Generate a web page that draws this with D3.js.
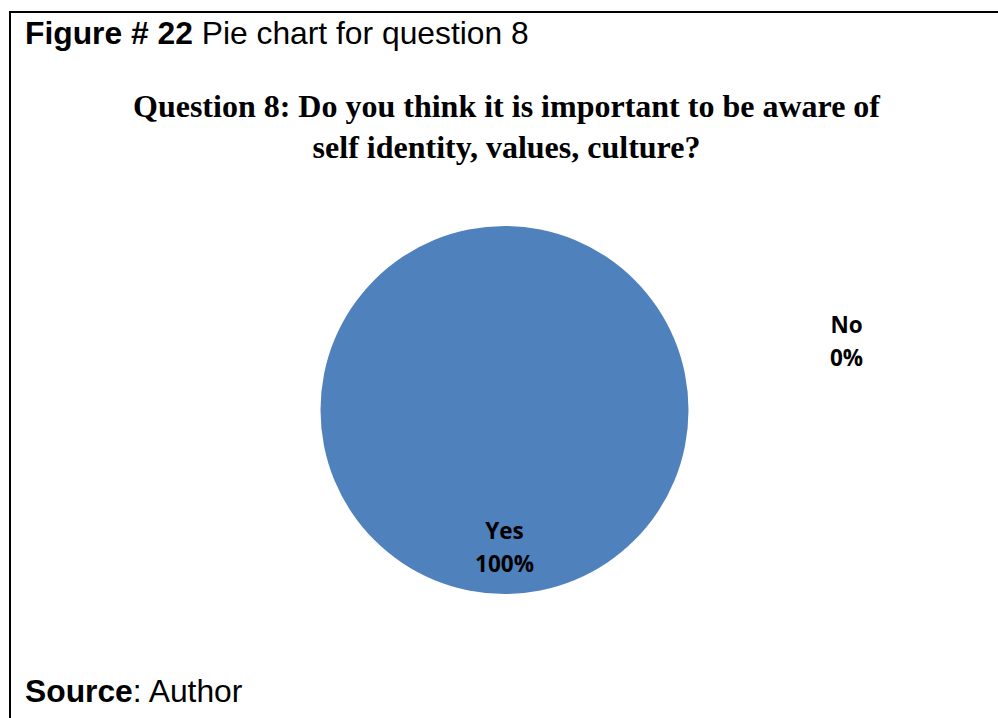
<!DOCTYPE html>
<html>
<head>
<meta charset="utf-8">
<script src="https://cdn.jsdelivr.net/npm/d3@7"></script>
<style>
  html, body { margin: 0; padding: 0; background: #fff; }
  svg { display: block; }
</style>
</head>
<body>
<svg id="chart" width="998" height="718"></svg>
<script>
// Survey answers for question 8
const categories = ["Yes", "No"];
const percents = [100, 0];
const sliceColors = ["#4F81BD", "#C0504D"];

const figureLabel = "Figure # 22";
const figureCaption = " Pie chart for question 8";
const titleLines = [
  "Question 8: Do you think it is important to be aware of",
  "self identity, values, culture?"
];

const svg = d3.select("#chart");

// Frame: top and left rules of the figure box
svg.append("line").attr("x1", 9).attr("y1", 12).attr("x2", 998).attr("y2", 12)
  .attr("stroke", "#000").attr("stroke-width", 2);
svg.append("line").attr("x1", 10).attr("y1", 11).attr("x2", 10).attr("y2", 718)
  .attr("stroke", "#000").attr("stroke-width", 2);

// Figure caption
const cap = svg.append("text").attr("x", 25).attr("y", 44)
  .attr("font-family", "Liberation Sans, Arial, sans-serif")
  .attr("font-size", 31.8).attr("fill", "#000");
cap.append("tspan").attr("font-weight", "bold").text(figureLabel);
cap.append("tspan").text(figureCaption);

// Chart title
svg.append("g").selectAll("text").data(titleLines).join("text")
  .attr("x", 506.5).attr("y", (d, i) => 117 + i * 41)
  .attr("text-anchor", "middle")
  .attr("font-family", "Liberation Serif, Times New Roman, serif")
  .attr("font-weight", "bold").attr("font-size", 32).attr("fill", "#000")
  .text(d => d);

// Pie
const cx = 504.5, cy = 410, radius = 184;
const data = categories.map((c, i) => ({ name: c, value: percents[i], color: sliceColors[i] }));
const pie = d3.pie().value(d => d.value).sort(null);
const arcs = pie(data);
const arc = d3.arc().innerRadius(0).outerRadius(radius);
const labelArc = d3.arc().innerRadius(radius * 0.745).outerRadius(radius * 0.745);

const g = svg.append("g").attr("transform", `translate(${cx},${cy})`);
g.selectAll("path").data(arcs.filter(d => d.value > 0)).join("path")
  .attr("d", arc).attr("fill", d => d.data.color);

// Data labels: inside for non-empty slices, to the upper right for an empty slice
const labelFont = "Open Sans, Lato, sans-serif";
arcs.forEach(d => {
  let x, y;
  if (d.value > 0) {
    [x, y] = labelArc.centroid(d);
  } else {
    x = 342; y = -69;
  }
  const t = g.append("text").attr("text-anchor", "middle")
    .attr("font-family", labelFont).attr("font-weight", "bold")
    .attr("font-size", 22.5).attr("fill", "#000");
  t.append("tspan").attr("x", x).attr("y", y - 8).text(d.data.name);
  t.append("tspan").attr("x", x).attr("y", y + 25).text(d.data.value + "%");
});

// Source line
const src = svg.append("text").attr("x", 25).attr("y", 702)
  .attr("font-family", "Liberation Sans, Arial, sans-serif")
  .attr("font-size", 31.8).attr("fill", "#000");
src.append("tspan").attr("font-weight", "bold").text("Source");
src.append("tspan").text(": Author");
</script>
</body>
</html>
